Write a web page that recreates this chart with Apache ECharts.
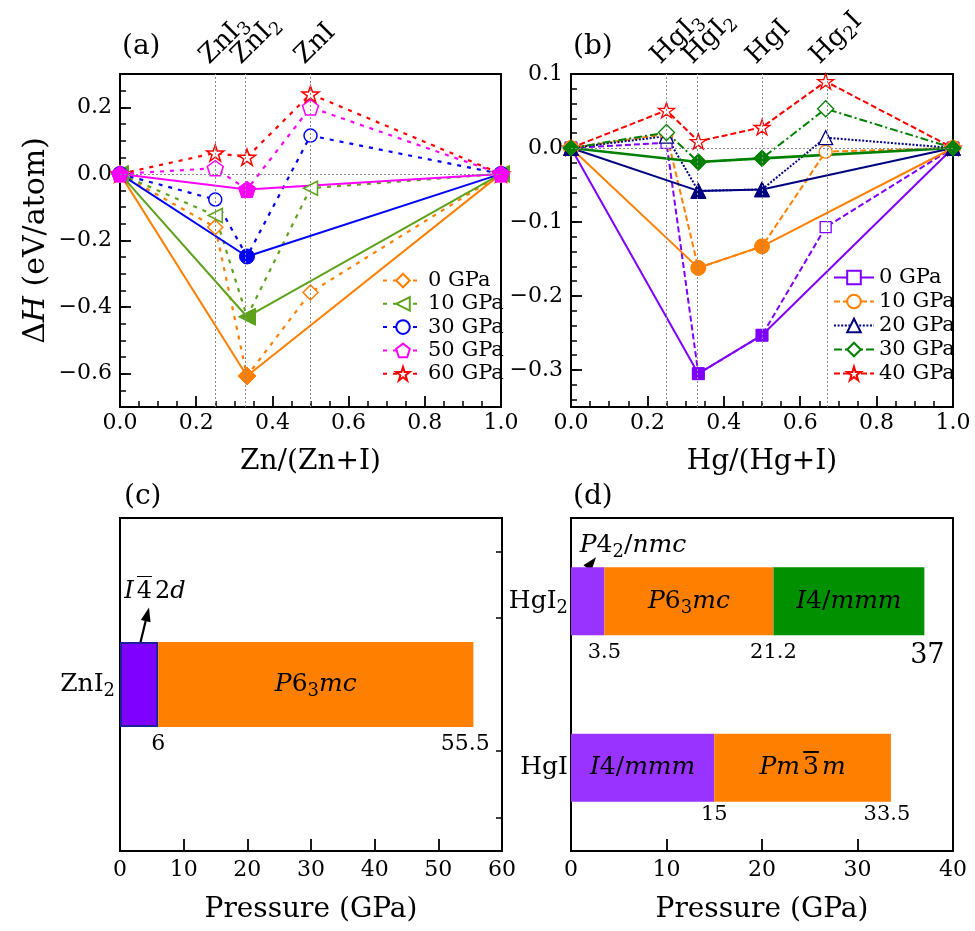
<!DOCTYPE html>
<html><head><meta charset="utf-8">
<script src="https://cdn.jsdelivr.net/npm/echarts@6/dist/echarts.min.js"></script>
<style>html,body{margin:0;padding:0;background:#fff}#c{width:975px;height:931px}</style>
</head><body><div id="c"></div>
<script>
const FONT = '"DejaVu Serif", "DejaVu Sans", "Noto Sans", serif';

// ---------- (a) Zn-I convex hull ----------
const znX = [0, 0.25, 1/3, 0.5, 1];
const znNames = ['0 GPa', '10 GPa', '30 GPa', '50 GPa', '60 GPa'];
const znH0  = [0, -0.160, -0.607, -0.356, 0];
const znH10 = [0, -0.125, -0.429, -0.043, 0];
const znH30 = [0, -0.077, -0.248,  0.115, 0];
const znH50 = [0,  0.017, -0.047,  0.200, 0];
const znH60 = [0,  0.063,  0.050,  0.240, 0];
const znHullIdx = [0, 2, 4];
const znPhaseX = [0.25, 1/3, 0.5];
const znPhaseLabels = ['ZnI_3', 'ZnI_2', 'ZnI'];

// ---------- (b) Hg-I convex hull ----------
const hgX = [0, 0.25, 1/3, 0.5, 2/3, 1];
const hgNames = ['0 GPa', '10 GPa', '20 GPa', '30 GPa', '40 GPa'];
const hgH0  = [0, 0.007, -0.305, -0.253, -0.107, 0];
const hgH10 = [0, 0.019, -0.162, -0.133, -0.005, 0];
const hgH20 = [0, 0.016, -0.058, -0.056,  0.014, 0];
const hgH30 = [0, 0.021, -0.019, -0.014,  0.053, 0];
const hgH40 = [0, 0.051,  0.009,  0.028,  0.090, 0];
const hgHullIdx = [0, 2, 3, 5];
const hgPhaseX = [0.25, 1/3, 0.5, 2/3];
const hgPhaseLabels = ['HgI_3', 'HgI_2', 'HgI', 'Hg_2I'];

// ---------- ticks ----------
const aYMajor = [-0.6, -0.4, -0.2, 0, 0.2];
const aYMinor = [-0.65,-0.6,-0.55,-0.5,-0.45,-0.4,-0.35,-0.3,-0.25,-0.2,-0.15,-0.1,-0.05,0,0.05,0.1,0.15,0.2,0.25];
const bYMajor = [-0.3, -0.2, -0.1, 0, 0.1];
const bYMinor = [-0.34,-0.32,-0.3,-0.28,-0.26,-0.24,-0.22,-0.2,-0.18,-0.16,-0.14,-0.12,-0.1,-0.08,-0.06,-0.04,-0.02,0,0.02,0.04,0.06,0.08];
const cRightTicks = [0.5, 1.5, 3.5, 4.5];

// ---------- (c),(d) phase transitions ----------
const znCats = ['ZnI_2'];
const znBounds = [0, 6, 55.5];
const znPhases = ['I-42d', 'P6_3mc'];
const hgCats = ['HgI', 'HgI_2'];
const hgI2Bounds = [0, 3.5, 21.2, 37];
const hgI2Phases = ['P4_2/nmc', 'P6_3mc', 'I4/mmm'];
const hgIBounds = [0, 15, 33.5];
const hgIPhases = ['I4/mmm', 'Pm-3m'];

// ---------- helpers ----------
const barCanvas = document.createElement('canvas');
barCanvas.width = 40; barCanvas.height = 60;
(function () {
  const g = barCanvas.getContext('2d');
  g.fillStyle = '#000';
  g.fillRect(6, 0, 28, 3);
})();
function richSet(size) {
  const sub = Math.round(size * 0.7);
  const pad = Math.round(size * 0.16);
  return {
    n: {fontFamily: FONT, fontSize: size, lineHeight: size + 2, color: '#000'},
    i: {fontFamily: FONT, fontSize: size, lineHeight: size + 2, fontStyle: 'italic', color: '#000'},
    b: {fontFamily: FONT, fontSize: size, lineHeight: size + 2, color: '#000',
        padding: [pad, 0, pad, 0], backgroundColor: {image: barCanvas}},
    s: {fontFamily: FONT, fontSize: sub, lineHeight: sub, padding: [Math.round(size * 0.55), 0, 0, 0], color: '#000'}
  };
}
function chemRich(s) { // upright, _x subscript
  let out = '', buf = '';
  for (let i = 0; i < s.length; i++) {
    if (s[i] === '_') { if (buf) out += '{n|' + buf + '}'; buf = ''; out += '{s|' + s[++i] + '}'; }
    else buf += s[i];
  }
  if (buf) out += '{n|' + buf + '}';
  return out;
}
function phaseRich(s) { // letters italic, digits upright, _x sub, -x overbar
  let out = '';
  for (let i = 0; i < s.length; i++) {
    const ch = s[i];
    if (ch === '_') out += '{s|' + s[++i] + '}';
    else if (ch === '-') out += '{b|' + s[++i] + '}';
    else if (/[A-Za-z]/.test(ch)) out += '{i|' + ch + '}';
    else out += '{n|' + ch + '}';
  }
  return out;
}
const fmtSigned = v => (v < -1e-9 ? '\u2212' : '') + Math.abs(v).toFixed(1);

const PENTAGON = 'path://M50,0 L97.55,34.55 L79.39,90.45 L20.61,90.45 L2.45,34.55 Z';
const STAR = 'path://M50,0 L61.23,34.55 L97.55,34.55 L68.17,55.9 L79.39,90.45 L50,69.1 L20.61,90.45 L31.83,55.9 L2.45,34.55 L38.77,34.55 Z';

const series = [];

// reference lines (a)
series.push({
  type: 'line', xAxisIndex: 0, yAxisIndex: 0, data: [], silent: true,
  markLine: {silent: true, symbol: ['none', 'none'], label: {show: false},
    lineStyle: {color: '#8a8a8a', type: [2, 2], width: 1},
    data: znPhaseX.map(x => ({xAxis: x})).concat([{yAxis: 0}])}
});
const znData = [znH0, znH10, znH30, znH50, znH60];
const znColors = ['#ff7f00', '#5ea21c', '#0000ff', '#ff00ff', '#ff0000'];
const znSymbols = ['diamond', 'triangle', 'circle', PENTAGON, STAR];
const znRot = [0, 90, 0, 0, 0];
const znOpen = [15, 14, 13, 16, 17];
const znFill = [18, 17, 15, 17, 17];
const znHull = [znHullIdx, znHullIdx, znHullIdx, znHullIdx, null];
znData.forEach((ys, k) => {
  series.push({
    type: 'line', name: 'a:' + znNames[k], xAxisIndex: 0, yAxisIndex: 0,
    data: znX.map((x, i) => [x, ys[i]]),
    symbol: znSymbols[k], symbolSize: znOpen[k], symbolRotate: znRot[k], symbolKeepAspect: true,
    showAllSymbol: true, silent: true,
    lineStyle: {color: znColors[k], width: 2.2, type: [4, 6]},
    itemStyle: {color: '#fff', borderColor: znColors[k], borderWidth: 1.5}
  });
});
znData.forEach((ys, k) => {
  if (!znHull[k]) return;
  series.push({
    type: 'line', name: 'ah:' + znNames[k], xAxisIndex: 0, yAxisIndex: 0,
    data: znHull[k].map(i => [znX[i], ys[i]]),
    symbol: znSymbols[k], symbolSize: znFill[k], symbolRotate: znRot[k], symbolKeepAspect: true,
    silent: true,
    lineStyle: {color: znColors[k], width: 2, type: 'solid'},
    itemStyle: {color: znColors[k], borderColor: znColors[k], borderWidth: 1}
  });
});

// reference lines (b)
series.push({
  type: 'line', xAxisIndex: 1, yAxisIndex: 2, data: [], silent: true,
  markLine: {silent: true, symbol: ['none', 'none'], label: {show: false},
    lineStyle: {color: '#8a8a8a', type: [2, 2], width: 1},
    data: hgPhaseX.map(x => ({xAxis: x})).concat([{yAxis: 0}])}
});
const hgData = [hgH0, hgH10, hgH20, hgH30, hgH40];
const hgColors = ['#7f00ff', '#ff8000', '#000080', '#008000', '#ff0000'];
const hgSymbols = ['rect', 'circle', 'triangle', 'diamond', STAR];
const hgDash = [[6, 3], [6, 3], [2, 1.6], [8, 3, 2, 3], [6, 3]];
const hgOpen = [11, 13, 14, 16, 16];
const hgFill = [12, 15, 15, 16, 16];
const hgHull = [hgHullIdx, hgHullIdx, hgHullIdx, hgHullIdx, null];
hgData.forEach((ys, k) => {
  series.push({
    type: 'line', name: 'b:' + hgNames[k], xAxisIndex: 1, yAxisIndex: 2,
    data: hgX.map((x, i) => [x, ys[i]]),
    symbol: hgSymbols[k], symbolSize: hgOpen[k], symbolKeepAspect: true,
    showAllSymbol: true, silent: true,
    lineStyle: {color: hgColors[k], width: 2, type: hgDash[k]},
    itemStyle: {color: '#fff', borderColor: hgColors[k], borderWidth: 1.3}
  });
});
hgData.forEach((ys, k) => {
  if (!hgHull[k]) return;
  series.push({
    type: 'line', name: 'bh:' + hgNames[k], xAxisIndex: 1, yAxisIndex: 2,
    data: hgHull[k].map(i => [hgX[i], ys[i]]),
    symbol: hgSymbols[k], symbolSize: hgFill[k], symbolKeepAspect: true, silent: true,
    lineStyle: {color: hgColors[k], width: k === 3 ? 2.6 : 2, type: 'solid'},
    itemStyle: {color: hgColors[k], borderColor: hgColors[k], borderWidth: 1}
  });
});

// ---------- bars (c) ----------
const barRich = richSet(25);
const znSegColors = ['#7f00ff', '#ff8000'];
znPhases.forEach((ph, j) => {
  series.push({
    type: 'bar', xAxisIndex: 2, yAxisIndex: 4, stack: 'zn', barWidth: 85, silent: true,
    data: [{
      value: znBounds[j + 1] - znBounds[j],
      itemStyle: {color: znSegColors[j], borderColor: j === 0 ? '#1f1f9e' : znSegColors[j], borderWidth: j === 0 ? 2 : 0},
      label: {show: j > 0, position: 'inside', formatter: phaseRich(ph), rich: barRich}
    }]
  });
});
const hideItem = {color: 'rgba(0,0,0,0)', opacity: 1};
series.push({
  type: 'scatter', xAxisIndex: 2, yAxisIndex: 4, symbolSize: 1, silent: true,
  itemStyle: hideItem,
  data: znBounds.slice(1).map((v, j, arr) => ({
    value: [v, znCats[0]],
    label: {show: true, position: 'inside', formatter: String(v), offset: [j === arr.length - 1 ? -8 : 0, 60],
      fontFamily: FONT, fontSize: 22, color: '#000', opacity: 1}
  }))
});

// ---------- bars (d) ----------
const hgSegColors = ['#9933ff', '#ff8000', '#009000'];
for (let j = 0; j < 3; j++) {
  const row = [hgIBounds, hgI2Bounds].map((b, r) => {
    const phases = r === 0 ? hgIPhases : hgI2Phases;
    if (j >= b.length - 1) return '-';
    const showLab = !(r === 1 && j === 0);
    return {
      value: b[j + 1] - b[j],
      itemStyle: {color: hgSegColors[j]},
      label: {show: showLab, position: 'inside', formatter: phaseRich(phases[j]), rich: barRich}
    };
  });
  series.push({type: 'bar', xAxisIndex: 3, yAxisIndex: 6, stack: 'hg', barWidth: 68, silent: true, data: row});
}
function transLabels(bounds, cat, dy, lastDx, lastBig) {
  return bounds.slice(1).map((v, j, arr) => {
    const last = j === arr.length - 1;
    return {
      value: [v, cat],
      label: {show: true, position: 'inside', formatter: String(v),
        offset: [last ? lastDx : 0, last && lastBig ? dy + 4 : dy],
        fontFamily: FONT, fontSize: last && lastBig ? 27 : 21, color: '#000', opacity: 1}
    };
  });
}
series.push({
  type: 'scatter', xAxisIndex: 3, yAxisIndex: 6, symbolSize: 1, silent: true,
  itemStyle: hideItem,
  data: transLabels(hgI2Bounds, hgCats[1], 51, 3, true).concat(transLabels(hgIBounds, hgCats[0], 47, -4, false))
});

// ---------- axes ----------
const black = '#000';
const axLine = {show: true, onZero: false, lineStyle: {color: black, width: 2}};
const tickStyle = {color: black, width: 1.8};
const labStyle = {fontFamily: FONT, fontSize: 22, color: black};
const nameStyle = {fontFamily: FONT, fontSize: 28, color: black};

function compX(gi, name) {
  return {
    gridIndex: gi, type: 'value', min: 0, max: 1, interval: 0.2,
    axisLine: axLine,
    axisTick: {show: true, inside: true, length: 11, lineStyle: tickStyle},
    minorTick: {show: true, splitNumber: 4, length: 6, lineStyle: {color: black, width: 1.5}},
    splitLine: {show: false}, minorSplitLine: {show: false},
    axisLabel: Object.assign({margin: 5, formatter: v => v.toFixed(1)}, labStyle),
    name: name, nameLocation: 'middle', nameGap: 41, nameTextStyle: nameStyle
  };
}
function pressX(gi, max) {
  return {
    gridIndex: gi, type: 'value', min: 0, max: max, interval: 10,
    axisLine: axLine,
    axisTick: {show: true, inside: true, length: 12, lineStyle: tickStyle},
    splitLine: {show: false},
    axisLabel: Object.assign({margin: 8}, labStyle),
    name: 'Pressure (GPa)', nameLocation: 'middle', nameGap: 45, nameTextStyle: nameStyle
  };
}
function majorY(gi, min, max, vals, extra) {
  return Object.assign({
    gridIndex: gi, type: 'value', min: min, max: max, position: 'left',
    axisLine: axLine,
    axisTick: {show: true, inside: true, length: 11, customValues: vals, lineStyle: tickStyle},
    splitLine: {show: false},
    axisLabel: Object.assign({margin: 8, customValues: vals, formatter: fmtSigned}, labStyle)
  }, extra || {});
}
function minorY(gi, min, max, vals) {
  return {
    gridIndex: gi, type: 'value', min: min, max: max, position: 'left',
    axisLine: {show: false},
    axisTick: {show: true, inside: true, length: 6, customValues: vals, lineStyle: {color: black, width: 1.5}},
    splitLine: {show: false}, axisLabel: {show: false}
  };
}
const yNameRich = richSet(30);
const catRich = richSet(25);
const legendText = {fontFamily: FONT, fontSize: 21, lineHeight: 21, color: black};

const option = {
  animation: false,
  backgroundColor: '#fff',
  title: [
    {text: '(a)', left: 122, top: 33},
    {text: '(b)', left: 573, top: 33},
    {text: '(c)', left: 124, top: 483},
    {text: '(d)', left: 573, top: 483}
  ].map(t => Object.assign(t, {padding: 0, textStyle: {fontFamily: FONT, fontSize: 28, fontWeight: 'normal', color: black}})),
  grid: [
    {left: 120, top: 74, width: 381, height: 333},
    {left: 571, top: 74, width: 382, height: 333},
    {left: 120, top: 518, width: 382, height: 333},
    {left: 571, top: 518, width: 382, height: 333}
  ].map(g => Object.assign(g, {show: true, borderColor: black, borderWidth: 2, backgroundColor: 'transparent'})),
  legend: [
    {
      data: znNames.map(n => 'a:' + n), formatter: n => n.slice(2),
      orient: 'vertical', left: 382, top: 270, padding: 0, itemWidth: 40, itemHeight: 17, itemGap: 2.3,
      selectedMode: false, textStyle: legendText
    },
    {
      data: hgNames.map((n, k) => k === 0 ? {name: 'b:' + n, lineStyle: {type: 'solid'}} : 'b:' + n),
      formatter: n => n.slice(2),
      orient: 'vertical', left: 833, top: 267, padding: 0, itemWidth: 40, itemHeight: 17, itemGap: 3,
      selectedMode: false, textStyle: legendText
    }
  ],
  xAxis: [compX(0, 'Zn/(Zn+I)'), compX(1, 'Hg/(Hg+I)'), pressX(2, 60), pressX(3, 40)],
  yAxis: [
    majorY(0, -0.7, 0.3, aYMajor, {
      name: '{n|\u0394}{i|H}{n| (eV/atom)}', nameLocation: 'middle', nameGap: 68,
      nameTextStyle: {rich: yNameRich}
    }),
    minorY(0, -0.7, 0.3, aYMinor),
    majorY(1, -0.35, 0.1, bYMajor),
    minorY(1, -0.35, 0.1, bYMinor),
    {
      gridIndex: 2, type: 'category', data: znCats, axisLine: {show: false}, axisTick: {show: false},
      splitLine: {show: false},
      axisLabel: {margin: 5, formatter: v => chemRich(v), rich: catRich}
    },
    {
      gridIndex: 2, type: 'value', min: 0, max: 5, position: 'right',
      axisLine: {show: false}, splitLine: {show: false}, axisLabel: {show: false},
      axisTick: {show: true, inside: true, length: 6, customValues: cRightTicks, lineStyle: {color: black, width: 1.5}}
    },
    {
      gridIndex: 3, type: 'category', data: hgCats, axisLine: {show: false}, axisTick: {show: false},
      splitLine: {show: false},
      axisLabel: {margin: 3, formatter: v => chemRich(v), rich: catRich}
    }
  ],
  series: series
};

const chart = echarts.init(document.getElementById('c'));
chart.setOption(option);

// ---------- annotations ----------
const graphics = [];
function topLabels(xi, yi, xs, labels, ytop) {
  xs.forEach((x, k) => {
    const p = chart.convertToPixel({xAxisIndex: xi, yAxisIndex: yi}, [x, ytop]);
    graphics.push({
      type: 'text', x: p[0] - 1, y: p[1] - 4, rotation: Math.PI / 4, silent: true,
      style: {x: 0, y: 0, text: chemRich(labels[k]), rich: richSet(26), align: 'left', verticalAlign: 'bottom'}
    });
  });
}
topLabels(0, 0, znPhaseX, znPhaseLabels, 0.3);
topLabels(1, 2, hgPhaseX, hgPhaseLabels, 0.1);

function arrow(x1, y1, x2, y2) {
  const ang = Math.atan2(y2 - y1, x2 - x1), L = 14, W = 5;
  const bx = x2 - L * Math.cos(ang), by = y2 - L * Math.sin(ang);
  const nx = -Math.sin(ang) * W, ny = Math.cos(ang) * W;
  graphics.push({type: 'line', silent: true, shape: {x1: x1, y1: y1, x2: bx, y2: by}, style: {stroke: black, lineWidth: 2.2}});
  graphics.push({type: 'polygon', silent: true, shape: {points: [[x2, y2], [bx + nx, by + ny], [bx - nx, by - ny]]}, style: {fill: black}});
}
const pc = chart.convertToPixel({xAxisIndex: 2, yAxisIndex: 4}, [0, znCats[0]]);
arrow(pc[0] + 18, pc[1] - 32, pc[0] + 29, pc[1] - 77);
graphics.push({type: 'text', x: pc[0] + 35, y: pc[1] - 93, silent: true,
  style: {x: 0, y: 0, text: phaseRich(znPhases[0]), rich: richSet(24), align: 'center', verticalAlign: 'middle'}});
const pd = chart.convertToPixel({xAxisIndex: 3, yAxisIndex: 6}, [0, hgCats[1]]);
arrow(pd[0] + 7, pd[1] - 21, pd[0] + 25, pd[1] - 44);
graphics.push({type: 'text', x: pd[0] + 62, y: pd[1] - 56, silent: true,
  style: {x: 0, y: 0, text: phaseRich(hgI2Phases[0]), rich: richSet(25), align: 'center', verticalAlign: 'middle'}});

chart.setOption({graphic: graphics});
</script>
</body></html>
